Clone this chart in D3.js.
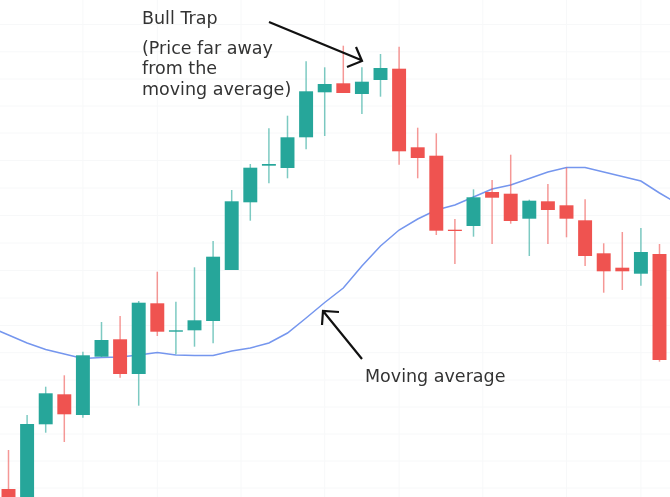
<!DOCTYPE html>
<html>
<head>
<meta charset="utf-8">
<script src="https://cdn.jsdelivr.net/npm/d3@7"></script>
<style>
  html, body { margin: 0; padding: 0; background: #ffffff; overflow: hidden; }
</style>
</head>
<body>
<div id="chart"></div>
<script>
// Candles (price units are arbitrary, no axis is shown)
const opens = [8, -13, 72.7, 102.7, 82, 140.3, 157.7, 123, 193.7, 165.3, 166.7, 176, 227, 294.7, 331.3, 329, 359.7, 404.7, 413.7, 403, 417, 428.3, 349.7, 341.3, 267.3, 271, 305, 303.3, 278.3, 295.7, 291.7, 276.7, 243.7, 229.3, 223.3, 243];
const closes = [-8, 73, 103.7, 82.7, 141.7, 157, 123, 194.3, 165.3, 166.7, 176.7, 240.3, 295.7, 329.3, 333, 359.7, 405.7, 413, 404, 415.3, 429, 345.7, 339, 266.3, 266, 299.7, 299.3, 276, 296.3, 287, 278.3, 241, 225.7, 225.7, 245, 137];
const highs = [47, 82, 110.3, 121.7, 145.3, 175, 181, 196, 225.3, 195.3, 229.7, 256, 307, 333, 368.7, 381.3, 435.7, 429.7, 451.3, 429.7, 443, 450.3, 369.3, 363.7, 278, 307.7, 317, 342.3, 297.3, 313, 329.3, 297.7, 253.7, 265, 269, 253];
const lows = [-8, -13, 64.3, 55, 79.3, 140, 119.3, 91.3, 161, 142.7, 150.3, 153.7, 227, 276.3, 313.7, 318.7, 347.7, 361, 404, 383, 400.3, 332.3, 318.7, 262, 233, 260.3, 253, 273.3, 241, 253, 259.7, 231, 204.3, 207, 211.3, 135.3];

// Moving average, one value per candle plus one off each edge of the picture
const maIndex = d3.range(-1, 37);
const maValues = [170, 162, 154, 147.5, 143, 138.5, 139.5, 140, 142, 144.5, 142, 141.5, 141.5, 146, 149, 154, 164, 179, 194.5, 209, 231, 251, 267, 278, 287, 292, 300, 308, 312, 318.5, 325, 329.5, 329.5, 325, 320.5, 316, 304, 293];

// Faint background grid
const gridPrices = [472.4, 445.2, 418, 391, 364, 336.5, 309, 281.5, 254, 226.5, 199, 171.5, 144.3, 117, 90, 63, 36, 9];
const gridIndex = [4, 8, 12.5, 17, 21, 25.5, 30, 34];

const width = 670,
  height = 497;

const svg = d3.select("#chart")
  .append("svg")
  .attr("width", width)
  .attr("height", height)
  .style("display", "block")
  .style("background", "#ffffff")
  .style("filter", "blur(0.4px)");

// Scales
const xScale = d3.scaleLinear()
  .domain([0, 35])
  .range([8.5, 659.5]);

const yScale = d3.scaleLinear()
  .domain([0, height])
  .range([height, 0]);

const bodyWidth = (xScale(1) - xScale(0)) * 0.75;

const green = "#26a69a",
  red = "#ef5350";

// Grid
svg.append("g").selectAll("line")
  .data(gridPrices)
  .enter()
  .append("line")
  .attr("x1", 0)
  .attr("x2", width)
  .attr("y1", d => yScale(d))
  .attr("y2", d => yScale(d))
  .attr("stroke", "#f7f8f9")
  .attr("stroke-width", 1);

svg.append("g").selectAll("line")
  .data(gridIndex)
  .enter()
  .append("line")
  .attr("x1", d => xScale(d))
  .attr("x2", d => xScale(d))
  .attr("y1", 0)
  .attr("y2", height)
  .attr("stroke", "#f7f8f9")
  .attr("stroke-width", 1);

// Moving average line
const line = d3.line()
  .x(d => xScale(d))
  .y((d, i) => yScale(maValues[i]));

svg.append("path")
  .datum(maIndex)
  .attr("fill", "none")
  .attr("stroke", "#7596ee")
  .attr("stroke-width", 1.5)
  .attr("d", line);

// Candles
const candles = svg.append("g").selectAll("g")
  .data(opens.map((d, i) => i))
  .enter()
  .append("g");

const colorOf = i => closes[i] >= opens[i] ? green : red;

candles.append("line")
  .attr("x1", i => xScale(i))
  .attr("x2", i => xScale(i))
  .attr("y1", i => yScale(highs[i]))
  .attr("y2", i => yScale(lows[i]))
  .attr("stroke", colorOf)
  .attr("stroke-opacity", 0.6)
  .attr("stroke-width", 1.5);

candles.append("rect")
  .attr("x", i => xScale(i) - bodyWidth / 2)
  .attr("y", i => yScale(Math.max(opens[i], closes[i])))
  .attr("width", bodyWidth)
  .attr("height", i => Math.abs(yScale(opens[i]) - yScale(closes[i])))
  .attr("fill", colorOf);

// Annotation text
const labels = [
  { text: "Bull Trap", x: 142, y: 24 },
  { text: "(Price far away", x: 142, y: 54 },
  { text: "from the", x: 142, y: 74 },
  { text: "moving average)", x: 142, y: 95 },
  { text: "Moving average", x: 365, y: 382 }
];

svg.append("g").selectAll("text")
  .data(labels)
  .enter()
  .append("text")
  .attr("x", d => d.x)
  .attr("y", d => d.y)
  .attr("fill", "#333333")
  .style("font-family", "'DejaVu Sans', sans-serif")
  .style("font-size", "17.5px")
  .text(d => d.text);

// Hand drawn arrows
const arrows = [
  "M269,22L361,60M356,47L362,61L347,67",
  "M362,359L323,311M322,325L323,311L339,312"
];

svg.append("g").selectAll("path")
  .data(arrows)
  .enter()
  .append("path")
  .attr("d", d => d)
  .attr("fill", "none")
  .attr("stroke", "#111111")
  .attr("stroke-width", 2.2);
</script>
</body>
</html>
